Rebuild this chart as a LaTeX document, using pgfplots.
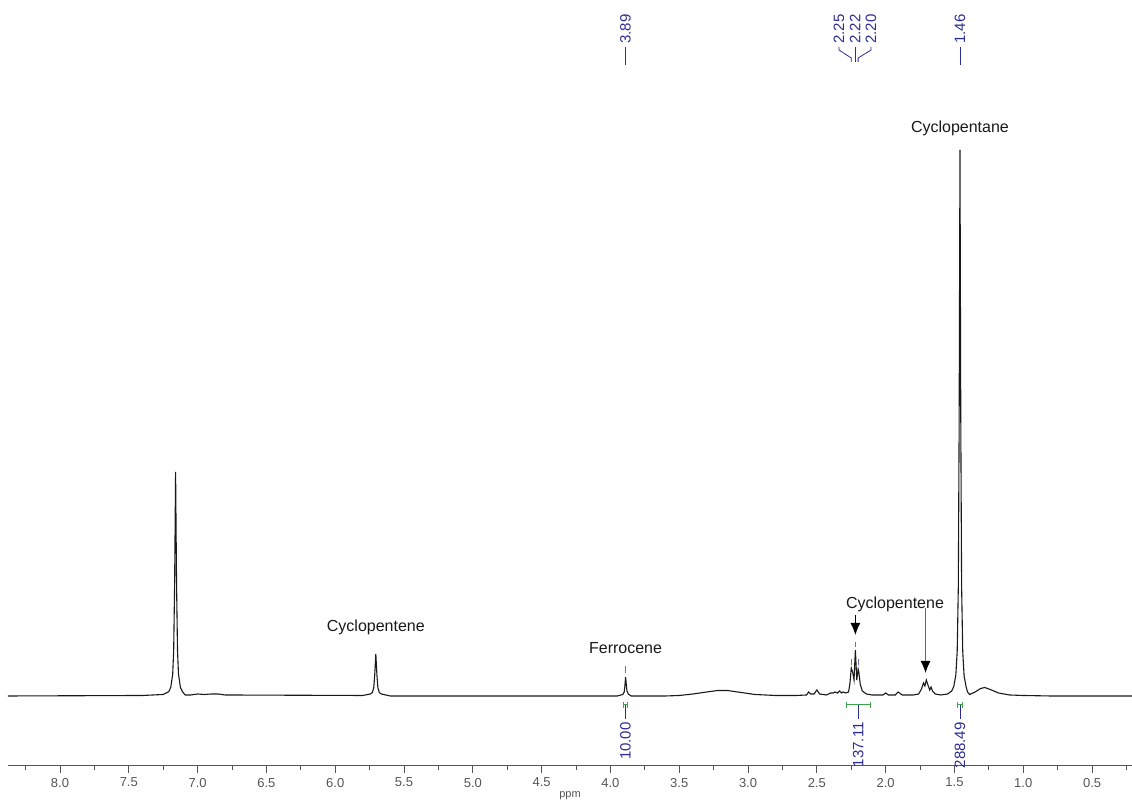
\documentclass[border=0pt]{standalone}
\usepackage{fontspec}
\setmainfont{Liberation Sans}
\usepackage{pgfplots}
\pgfplotsset{compat=1.18}
\usetikzlibrary{arrows.meta}
\definecolor{pkblue}{RGB}{45,45,150}
\definecolor{intgreen}{RGB}{60,165,75}
\definecolor{axgray}{RGB}{85,85,85}
\definecolor{spec}{RGB}{25,25,25}
\begin{document}
\begin{tikzpicture}
\begin{axis}[name=ax, at={(0,0)}, anchor=south west,
  scale only axis, width=562pt, height=383pt,
  x dir=reverse, xmin=0.21, xmax=8.378, ymin=-70, ymax=696,
  axis y line=none, axis x line*=bottom,
  x axis line style={-, axgray, line width=0.5pt},
  xtick={0.5,1.0,1.5,2.0,2.5,3.0,3.5,4.0,4.5,5.0,5.5,6.0,6.5,7.0,7.5,8.0},
  minor xtick={0.25,0.75,1.25,1.75,2.25,2.75,3.25,3.75,4.25,4.75,5.25,5.75,6.25,6.75,7.25,7.75,8.25},
  tick align=outside, major tick length=3.5pt, minor tick length=2pt,
  tick style={axgray, line width=0.5pt},
  /pgf/number format/assume math mode=true,
  xticklabel style={font=\fontsize{6.5}{7}\selectfont, text=axgray, yshift=1pt,
    /pgf/number format/fixed, /pgf/number format/fixed zerofill,
    /pgf/number format/precision=1},
  xlabel={ppm}, xlabel style={font=\fontsize{5.5}{6}\selectfont, text=axgray,
    at={(axis description cs:0.5,0)}, anchor=center, yshift=-15pt},
  clip=false,
]
\addplot[spec, line width=0.55pt] coordinates {
(0.21,0) (0.8,0) (1.0,0.5) (1.1,1) (1.18,3) (1.24,6.5) (1.28,8.5) (1.31,7.5) (1.35,4) (1.39,1.5)
(1.405,4) (1.415,9) (1.43,20) (1.44,45) (1.448,109) (1.454,273) (1.46,546) (1.466,273) (1.472,109)
(1.48,45) (1.49,21) (1.505,9.5) (1.52,5) (1.55,2) (1.60,1) (1.64,2) (1.66,5) (1.67,9) (1.68,6)
(1.695,12) (1.705,16) (1.715,10) (1.725,13) (1.74,7) (1.76,2) (1.80,1) (1.88,1) (1.91,4) (1.93,1)
(1.98,1) (2.00,3) (2.02,1) (2.10,1) (2.14,2) (2.17,5) (2.185,12) (2.195,24) (2.20,27) (2.21,16)
(2.22,46) (2.23,16) (2.24,24) (2.25,28) (2.26,12) (2.27,4) (2.29,3) (2.31,4) (2.32,3) (2.335,5)
(2.35,3) (2.37,4) (2.38,3) (2.40,3) (2.43,1) (2.48,2) (2.50,6) (2.52,2) (2.545,2) (2.56,4)
(2.575,1) (2.65,0.5) (2.8,0.5) (2.95,1.5) (3.05,3.5) (3.15,5.5) (3.22,5.5) (3.30,4) (3.40,2)
(3.50,0.5) (3.6,0) (3.85,0) (3.87,2) (3.88,5) (3.885,12) (3.89,19) (3.895,10) (3.90,4) (3.91,1.5)
(3.95,0) (5.60,0) (5.665,2) (5.68,3.5) (5.69,8.4) (5.697,21) (5.705,42) (5.713,21) (5.72,8.4)
(5.73,3.5) (5.745,2) (5.8,0.5) (6.8,1) (6.85,2) (6.9,2) (6.95,1.5) (7.0,2) (7.05,1) (7.09,1)
(7.11,4.3) (7.125,8.6) (7.139,22) (7.146,45) (7.153,112) (7.16,224) (7.167,112) (7.174,45)
(7.181,22) (7.195,8.6) (7.21,4.3) (7.25,1.5) (7.4,0.5) (8.378,0)
};
% peak labels (top)
\tikzset{pklab/.style={rotate=90, anchor=west, text=pkblue, inner sep=0pt, font=\fontsize{7.5}{8}\selectfont}}
\node[pklab] at (axis cs:3.89,652) {3.89};
\draw[pkblue, line width=0.4pt] (axis cs:3.89,649) -- (axis cs:3.89,631);
\node[pklab] at (axis cs:1.46,652) {1.46};
\draw[pkblue, line width=0.4pt] (axis cs:1.46,649) -- (axis cs:1.46,631);
\node[pklab] at (axis cs:2.339,652) {2.25};
\node[pklab] at (axis cs:2.222,652) {2.22};
\node[pklab] at (axis cs:2.106,652) {2.20};
\draw[pkblue, line width=0.4pt] (axis cs:2.339,649) -- (axis cs:2.339,646) -- (axis cs:2.25,638) -- (axis cs:2.25,634);
\draw[pkblue, line width=0.4pt] (axis cs:2.222,649) -- (axis cs:2.222,634);
\draw[pkblue, line width=0.4pt] (axis cs:2.106,649) -- (axis cs:2.106,646) -- (axis cs:2.20,638) -- (axis cs:2.20,634);
% peak pick marks
\draw[pkblue!70, line width=0.5pt] (axis cs:3.89,23) -- (axis cs:3.89,30);
\draw[pkblue!70, line width=0.5pt] (axis cs:2.22,49) -- (axis cs:2.22,54);
\draw[pkblue!70, line width=0.5pt] (axis cs:2.25,31) -- (axis cs:2.25,37);
\draw[pkblue!70, line width=0.5pt] (axis cs:2.20,31) -- (axis cs:2.20,37);
% integrals
\tikzset{intlab/.style={rotate=90, anchor=east, text=pkblue, inner sep=0pt, font=\fontsize{7.5}{8}\selectfont}}
\draw[intgreen, line width=0.5pt] (axis cs:3.905,-9) -- (axis cs:3.875,-9);
\draw[intgreen, line width=0.5pt] (axis cs:3.905,-6) -- (axis cs:3.905,-12);
\draw[intgreen, line width=0.5pt] (axis cs:3.875,-6) -- (axis cs:3.875,-12);
\draw[pkblue, line width=0.4pt] (axis cs:3.89,-9) -- (axis cs:3.89,-23);
\node[intlab] at (axis cs:3.89,-26) {10.00};
\draw[intgreen, line width=0.5pt] (axis cs:2.281,-9) -- (axis cs:2.113,-9);
\draw[intgreen, line width=0.5pt] (axis cs:2.281,-6) -- (axis cs:2.281,-12);
\draw[intgreen, line width=0.5pt] (axis cs:2.113,-6) -- (axis cs:2.113,-12);
\draw[pkblue, line width=0.4pt] (axis cs:2.20,-9) -- (axis cs:2.20,-23);
\node[intlab] at (axis cs:2.20,-26) {137.11};
\draw[intgreen, line width=0.5pt] (axis cs:1.48,-9) -- (axis cs:1.44,-9);
\draw[intgreen, line width=0.5pt] (axis cs:1.48,-6) -- (axis cs:1.48,-12);
\draw[intgreen, line width=0.5pt] (axis cs:1.44,-6) -- (axis cs:1.44,-12);
\draw[pkblue, line width=0.4pt] (axis cs:1.46,-9) -- (axis cs:1.46,-23);
\node[intlab] at (axis cs:1.46,-26) {288.49};
% annotations
\tikzset{ann/.style={font=\fontsize{8}{9}\selectfont, text=black!90, inner sep=0pt}}
\node[ann] at (axis cs:1.46,568) {Cyclopentane};
\node[ann] at (axis cs:5.705,69) {Cyclopentene};
\node[ann] at (axis cs:3.89,48) {Ferrocene};
\node[ann] at (axis cs:1.932,92) {Cyclopentene};
\draw[black, line width=0.5pt, -{Latex[length=6pt,width=5pt]}] (axis cs:2.22,81) -- (axis cs:2.22,61);
\draw[black!60, line width=0.5pt, -{Latex[length=6pt,width=5pt,color=black]}] (axis cs:1.71,88) -- (axis cs:1.71,23);
\end{axis}
\pgfresetboundingbox
\path[use as bounding box] (-4pt,-17.5pt) rectangle (562pt,383pt);
\end{tikzpicture}
\end{document}
